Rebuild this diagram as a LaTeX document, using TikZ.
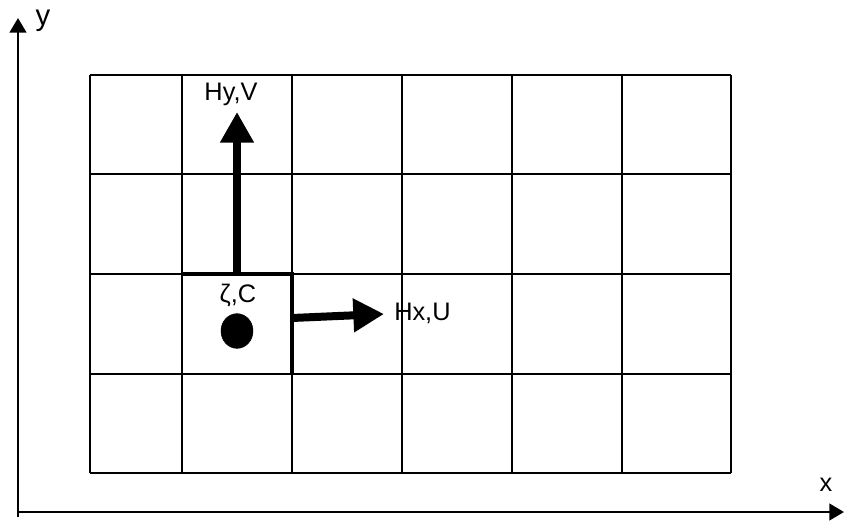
\documentclass[tikz,border=0pt]{standalone}
\usepackage{fontspec}
\setmainfont{Liberation Sans}
\usetikzlibrary{arrows.meta,shapes.geometric}
\begin{document}
\begin{tikzpicture}[x=0.75pt,y=-0.75pt,
  gridline/.style={line width=1.6pt,black},
  thickline/.style={line width=3pt,black},
  axis/.style={line width=1.8pt,black,-{Triangle[length=11pt,width=12.5pt]}},
  vec/.style={line width=6pt,black,-{Triangle[length=23pt,width=24pt]}},
  lbl/.style={inner sep=0pt,font=\fontsize{19}{21}\selectfont}]
\useasboundingbox (0,0) rectangle (844,522);
% grid
\foreach \x in {90,182,292,402,512,622,731}
  \draw[gridline] (\x,75) -- (\x,473);
\foreach \y in {75,174,274,374,473}
  \draw[gridline] (90,\y) -- (731,\y);
% highlighted cell edges
\coordinate (c1) at (181,274);
\coordinate (c2) at (292,274);
\coordinate (c3) at (292,375);
\draw[thickline] (c1) -- (c2) -- (c3);
% axes
\coordinate (o) at (18,517);
\coordinate (ytip) at (18,18);
\coordinate (xo) at (17,512);
\coordinate (xtip) at (844,512);
\draw[axis] (o) -- (ytip);
\draw[axis] (xo) -- (xtip);
\node[lbl,font=\fontsize{22}{24}\selectfont] (ylab) at (43,21) {y};
\node[lbl,font=\fontsize{19}{21}\selectfont] (xlab) at (826,485) {x};
% vectors
\coordinate (vs) at (237,274);
\coordinate (ve) at (237,112);
\draw[vec] (vs) -- (ve);
\coordinate (us) at (292,318);
\coordinate (ue) at (384,314);
\draw[vec] (us) -- (ue);
% labels and dot
\node[lbl] (hyv) at (231,94) {Hy,V};
\node[lbl,anchor=west] (hxu) at (394,313) {Hx,U};
\node[lbl] (zc) at (238,295) {ζ,C};
\node[draw,fill=black,ellipse,minimum width=24pt,minimum height=26pt,inner sep=0pt] (dot) at (237,331) {};
\end{tikzpicture}
\end{document}
